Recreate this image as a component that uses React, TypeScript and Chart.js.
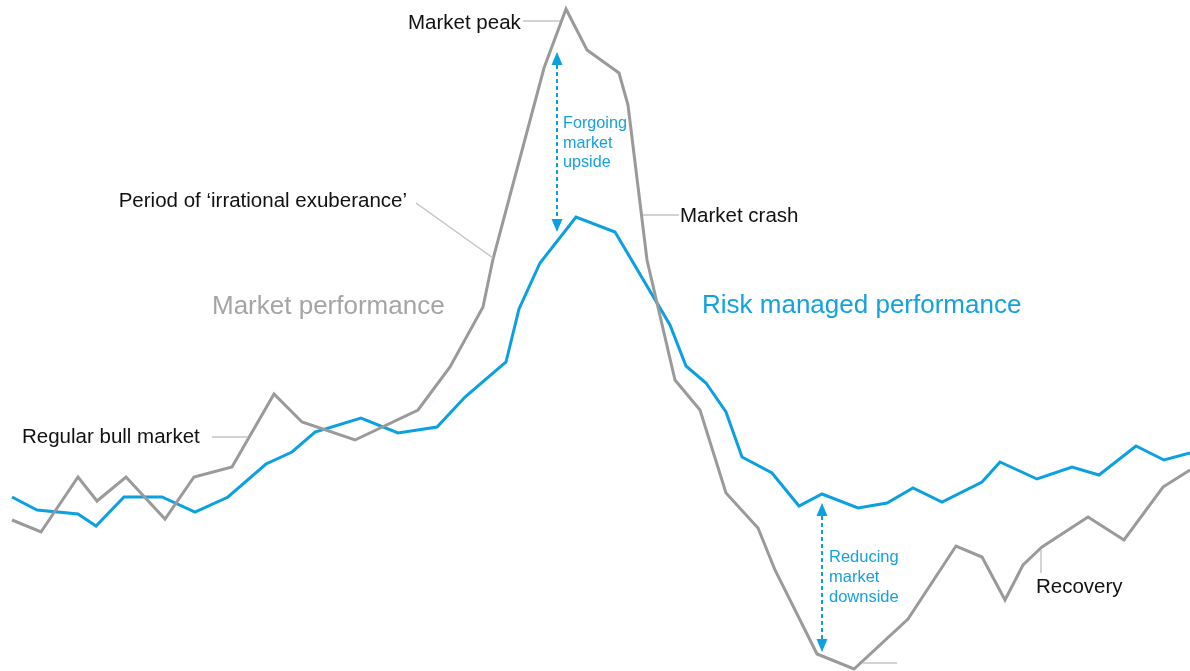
import React, { useEffect, useRef } from "react";
import { Chart, registerables } from "chart.js";

Chart.register(...registerables);

// time (arbitrary units) and performance level (index units)
const marketTime = [1.2, 4.1, 7.8, 9.7, 12.6, 16.5, 19.4, 23.2, 27.4, 30.2, 35.5, 41.8, 45.0, 48.3, 49.3, 54.4, 56.6, 58.7, 61.9, 62.8, 64.7, 67.5, 70.0, 72.6, 75.8, 77.5, 81.7, 85.4, 90.8, 95.6, 98.2, 100.5, 102.3, 104.2, 108.8, 112.4, 116.3, 119.0];
const marketLevel = [15.1, 13.9, 19.4, 17.0, 19.4, 15.2, 19.4, 20.4, 27.7, 24.9, 23.1, 26.1, 30.4, 36.4, 41.2, 60.3, 66.2, 62.1, 59.8, 56.6, 41.1, 29.1, 26.1, 17.8, 14.3, 10.1, 1.7, 0.2, 5.2, 12.5, 11.4, 7.1, 10.6, 12.4, 15.4, 13.1, 18.4, 20.1];

const riskTime = [1.2, 3.7, 7.8, 9.6, 12.4, 16.2, 19.5, 22.8, 26.6, 29.2, 31.5, 36.1, 39.8, 43.7, 46.5, 50.6, 51.9, 54.0, 57.6, 61.5, 67.0, 68.6, 70.6, 72.6, 74.2, 77.2, 79.9, 82.2, 85.8, 88.7, 91.3, 94.2, 98.2, 100.0, 103.7, 107.2, 109.9, 113.6, 116.4, 119.0];
const riskLevel = [17.4, 16.1, 15.7, 14.5, 17.4, 17.4, 15.9, 17.4, 20.7, 21.9, 23.9, 25.3, 23.8, 24.4, 27.4, 30.9, 36.2, 40.8, 45.4, 43.9, 34.6, 30.5, 28.8, 25.9, 21.4, 19.8, 16.5, 17.7, 16.3, 16.8, 18.3, 16.9, 18.9, 20.9, 19.2, 20.4, 19.6, 22.5, 21.1, 21.8];

const FONT = '"Liberation Sans", Arial, Helvetica, sans-serif';
const GRAY = "#9a9a9a";
const BLUE = "#0ba0e0";
const LEADER = "#c4c4c4";

type Label = { lines: string[]; x: number; y: number; align: CanvasTextAlign; color: string; size: number; lh?: number };
const labels: Label[] = [
  { lines: ["Market peak"], x: 40.8, y: 64.2, align: "left", color: "#111", size: 20.5 },
  { lines: ["Period of \u2018irrational exuberance\u2019"], x: 40.7, y: 46.4, align: "right", color: "#111", size: 20.5 },
  { lines: ["Market performance"], x: 21.2, y: 35.7, align: "left", color: "#a5a5a5", size: 26 },
  { lines: ["Risk managed performance"], x: 70.2, y: 35.8, align: "left", color: "#14a2df", size: 26 },
  { lines: ["Market crash"], x: 68.0, y: 44.9, align: "left", color: "#111", size: 20.5 },
  { lines: ["Regular bull market"], x: 2.2, y: 22.8, align: "left", color: "#111", size: 20.5 },
  { lines: ["Recovery"], x: 103.6, y: 7.8, align: "left", color: "#111", size: 20.5 },
  { lines: ["Forgoing", "market", "upside"], x: 56.3, y: 54.3, align: "left", color: "#17a1dc", size: 16.2, lh: 1.95 },
  { lines: ["Reducing", "market", "downside"], x: 82.9, y: 10.9, align: "left", color: "#17a1dc", size: 16.5, lh: 2.0 },
];

const leaders: number[][] = [
  [52.3, 65.0, 56.0, 65.0],
  [41.6, 46.8, 49.3, 41.3],
  [64.3, 45.6, 67.9, 45.6],
  [21.2, 23.4, 24.8, 23.4],
  [104.1, 12.1, 104.1, 9.8],
  [86.3, 0.8, 89.7, 0.8],
];

const arrows: number[][] = [
  [55.7, 61.9, 43.9],
  [82.2, 16.8, 1.9],
];

const annotationPlugin = {
  id: "annotations",
  afterDatasetsDraw(chart: any) {
    const ctx: CanvasRenderingContext2D = chart.ctx;
    const xs = chart.scales.x;
    const ys = chart.scales.y;
    const px = (v: number) => xs.getPixelForValue(v);
    const py = (v: number) => ys.getPixelForValue(v);
    ctx.save();
    ctx.strokeStyle = LEADER;
    ctx.lineWidth = 1.5;
    leaders.forEach(([x1, y1, x2, y2]) => {
      ctx.beginPath();
      ctx.moveTo(px(x1), py(y1));
      ctx.lineTo(px(x2), py(y2));
      ctx.stroke();
    });
    arrows.forEach(([x, yTop, yBot]) => {
      const X = px(x);
      const T = py(yTop);
      const B = py(yBot);
      const head = 13;
      const hw = 5.5;
      ctx.strokeStyle = BLUE;
      ctx.lineWidth = 2;
      ctx.setLineDash([4, 3]);
      ctx.beginPath();
      ctx.moveTo(X, T + head);
      ctx.lineTo(X, B - head);
      ctx.stroke();
      ctx.setLineDash([]);
      ctx.fillStyle = BLUE;
      ctx.beginPath();
      ctx.moveTo(X, T);
      ctx.lineTo(X - hw, T + head);
      ctx.lineTo(X + hw, T + head);
      ctx.closePath();
      ctx.fill();
      ctx.beginPath();
      ctx.moveTo(X, B);
      ctx.lineTo(X - hw, B - head);
      ctx.lineTo(X + hw, B - head);
      ctx.closePath();
      ctx.fill();
    });
    ctx.textBaseline = "alphabetic";
    labels.forEach((l) => {
      ctx.font = `${l.size}px ${FONT}`;
      ctx.fillStyle = l.color;
      ctx.textAlign = l.align;
      const step = l.lh ?? 0;
      l.lines.forEach((t, i) => {
        ctx.fillText(t, px(l.x), py(l.y - i * step));
      });
    });
    ctx.restore();
  },
};

export default function App() {
  const ref = useRef<HTMLCanvasElement | null>(null);
  useEffect(() => {
    document.body.style.margin = "0";
    const canvas = ref.current;
    if (!canvas) return;
    const chart = new Chart(canvas, {
      type: "line",
      data: {
        datasets: [
          {
            label: "Market performance",
            data: marketTime.map((t, i) => ({ x: t, y: marketLevel[i] })),
            borderColor: GRAY,
            borderWidth: 3,
            pointRadius: 0,
            tension: 0,
            borderJoinStyle: "miter",
            fill: false,
            clip: false as any,
          },
          {
            label: "Risk managed performance",
            data: riskTime.map((t, i) => ({ x: t, y: riskLevel[i] })),
            borderColor: BLUE,
            borderWidth: 3,
            pointRadius: 0,
            tension: 0,
            borderJoinStyle: "miter",
            fill: false,
            clip: false as any,
          },
        ],
      },
      options: {
        responsive: false,
        animation: false,
        layout: { padding: 0 },
        plugins: { legend: { display: false }, tooltip: { enabled: false } },
        scales: {
          x: { type: "linear", min: 0, max: 119, display: false },
          y: { type: "linear", min: 0, max: 67.1, display: false },
        },
      },
      plugins: [annotationPlugin],
    });
    return () => chart.destroy();
  }, []);
  return (
    <div style={{ position: "absolute", left: 0, top: 0, width: 1190, height: 671, background: "#fff" }}>
      <canvas ref={ref} width={1190} height={671} style={{ display: "block" }} />
    </div>
  );
}
